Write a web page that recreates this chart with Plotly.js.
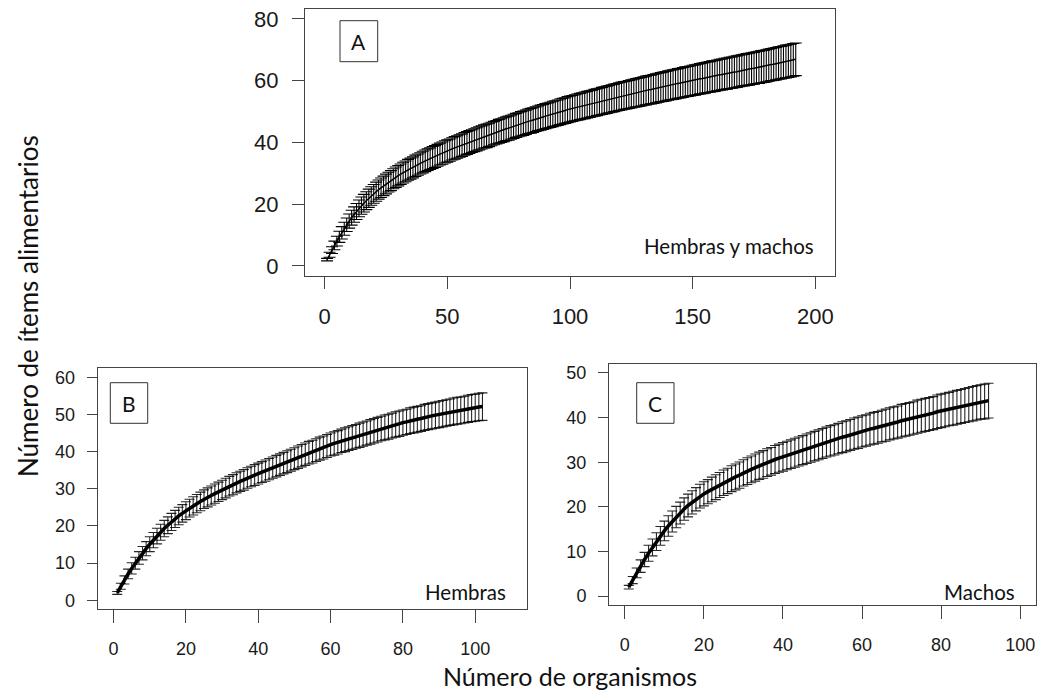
<!DOCTYPE html>
<html><head><meta charset="utf-8">
<script src="https://cdn.plot.ly/plotly-3.0.1.min.js"></script>
<style>html,body{margin:0;padding:0;background:#fff}#chart{width:1037px;height:693px}</style>
</head><body><div id="chart"></div>
<script>
// Panel A: Hembras y machos (mean number of food items vs number of organisms, 1..192)
const meanA = [
2.0,3.6,5.1,6.6,8.0,9.4,10.7,12.0,13.3,14.5,
15.6,16.6,17.6,18.6,19.5,20.3,21.1,21.9,22.6,23.3,
24.0,24.7,25.3,25.9,26.5,27.1,27.6,28.2,28.7,29.2,
29.7,30.2,30.6,31.1,31.5,31.9,32.4,32.8,33.2,33.6,
34.0,34.4,34.7,35.1,35.4,35.8,36.2,36.5,36.9,37.2,
37.5,37.9,38.2,38.5,38.8,39.1,39.5,39.8,40.1,40.4,
40.7,41.0,41.3,41.6,41.9,42.1,42.4,42.7,43.0,43.3,
43.6,43.8,44.1,44.4,44.6,44.9,45.2,45.5,45.7,46.0,
46.2,46.5,46.8,47.0,47.2,47.5,47.8,48.0,48.2,48.5,
48.7,48.9,49.2,49.4,49.6,49.9,50.1,50.3,50.6,50.8,
51.0,51.2,51.4,51.6,51.8,52.0,52.2,52.4,52.6,52.8,
53.0,53.2,53.4,53.6,53.8,54.0,54.2,54.4,54.6,54.8,
55.0,55.2,55.3,55.5,55.7,55.9,56.1,56.2,56.4,56.6,
56.8,57.0,57.1,57.3,57.5,57.7,57.9,58.0,58.2,58.4,
58.6,58.7,58.9,59.1,59.2,59.4,59.6,59.7,59.9,60.1,
60.2,60.4,60.6,60.7,60.9,61.1,61.2,61.4,61.5,61.7,
61.9,62.0,62.2,62.3,62.5,62.6,62.8,62.9,63.1,63.3,
63.4,63.6,63.7,63.9,64.0,64.2,64.3,64.5,64.6,64.8,
65.0,65.2,65.3,65.5,65.7,65.8,66.0,66.2,66.3,66.5,66.7,66.9
];
const errA = [
0.4,0.8,1.1,1.4,1.6,1.8,2.0,2.1,2.2,2.3,
2.4,2.5,2.6,2.7,2.8,2.85,2.9,2.95,3.0,3.05,
3.1,3.1,3.15,3.15,3.2,3.2,3.25,3.25,3.3,3.3,
3.3,3.35,3.35,3.4,3.4,3.4,3.45,3.45,3.45,3.5,
3.5,3.5,3.5,3.55,3.55,3.55,3.55,3.6,3.6,3.6,
3.6,3.6,3.65,3.65,3.65,3.65,3.7,3.7,3.7,3.7,
3.7,3.75,3.75,3.75,3.75,3.8,3.8,3.8,3.8,3.8,
3.85,3.85,3.85,3.85,3.9,3.9,3.9,3.9,3.9,3.95,
3.95,3.95,3.95,4.0,4.0,4.0,4.0,4.05,4.05,4.05,
4.05,4.1,4.1,4.1,4.1,4.15,4.15,4.15,4.2,4.2,
4.2,4.2,4.25,4.25,4.25,4.3,4.3,4.3,4.3,4.35,
4.35,4.35,4.4,4.4,4.4,4.4,4.45,4.45,4.45,4.5,
4.5,4.5,4.5,4.55,4.55,4.55,4.6,4.6,4.6,4.6,
4.65,4.65,4.65,4.7,4.7,4.7,4.7,4.75,4.75,4.75,
4.75,4.8,4.8,4.8,4.8,4.85,4.85,4.85,4.85,4.9,
4.9,4.9,4.9,4.95,4.95,4.95,4.95,5.0,5.0,5.0,
5.0,5.0,5.05,5.05,5.05,5.05,5.1,5.1,5.1,5.1,
5.1,5.15,5.15,5.15,5.15,5.15,5.2,5.2,5.2,5.2,
5.2,5.2,5.25,5.25,5.25,5.25,5.25,5.3,5.3,5.3,5.3,5.3
];

// Panel B: Hembras (1..102)
const meanB = [
2.0,3.8,5.5,7.1,8.6,10.0,11.4,12.7,13.9,15.1,
16.2,17.3,18.3,19.3,20.2,21.1,21.9,22.7,23.4,24.1,
24.8,25.4,26.0,26.6,27.2,27.7,28.2,28.7,29.2,29.7,
30.2,30.7,31.1,31.6,32.0,32.4,32.9,33.3,33.7,34.1,
34.5,34.9,35.3,35.7,36.1,36.5,36.9,37.3,37.7,38.1,
38.5,38.9,39.3,39.7,40.0,40.4,40.8,41.1,41.5,41.9,
42.2,42.5,42.9,43.2,43.5,43.8,44.1,44.4,44.7,45.0,
45.3,45.6,45.9,46.2,46.5,46.7,47.0,47.3,47.5,47.8,
48.0,48.3,48.5,48.7,48.9,49.2,49.4,49.6,49.8,50.0,
50.2,50.4,50.6,50.8,51.0,51.1,51.3,51.5,51.7,51.8,52.0,52.1
];
const errB = [
0.4,0.8,1.1,1.3,1.5,1.6,1.7,1.8,1.9,2.0,
2.05,2.1,2.15,2.2,2.25,2.3,2.3,2.35,2.35,2.4,
2.4,2.45,2.45,2.5,2.5,2.55,2.55,2.6,2.6,2.6,
2.65,2.65,2.7,2.7,2.7,2.75,2.75,2.75,2.8,2.8,
2.8,2.85,2.85,2.85,2.9,2.9,2.9,2.95,2.95,2.95,
3.0,3.0,3.0,3.05,3.05,3.05,3.1,3.1,3.1,3.1,
3.15,3.15,3.15,3.2,3.2,3.2,3.2,3.25,3.25,3.25,
3.3,3.3,3.3,3.3,3.35,3.35,3.35,3.4,3.4,3.4,
3.4,3.45,3.45,3.45,3.45,3.5,3.5,3.5,3.5,3.55,
3.55,3.55,3.55,3.6,3.6,3.6,3.6,3.65,3.65,3.65,3.7,3.7
];

// Panel C: Machos (1..92)
const meanC = [
2.0,3.6,5.2,6.7,8.2,9.6,10.9,12.2,13.5,14.6,
15.7,16.7,17.7,18.6,19.5,20.3,21.0,21.7,22.4,22.9,
23.4,23.9,24.4,24.9,25.4,25.8,26.3,26.7,27.1,27.6,
28.0,28.4,28.8,29.2,29.5,29.9,30.2,30.6,30.9,31.2,
31.5,31.8,32.1,32.4,32.7,33.0,33.3,33.6,33.9,34.2,
34.5,34.8,35.0,35.3,35.6,35.8,36.1,36.4,36.6,36.9,
37.1,37.4,37.6,37.8,38.1,38.3,38.6,38.8,39.0,39.3,
39.5,39.7,39.9,40.2,40.4,40.6,40.8,41.0,41.3,41.5,
41.7,41.9,42.1,42.3,42.5,42.7,42.9,43.1,43.3,43.5,43.6,43.8
];
const errC = [
0.4,0.8,1.1,1.4,1.6,1.8,1.9,2.0,2.1,2.2,
2.3,2.35,2.4,2.45,2.5,2.55,2.6,2.6,2.65,2.7,
2.7,2.75,2.8,2.8,2.85,2.85,2.9,2.9,2.95,2.95,
3.0,3.0,3.05,3.05,3.1,3.1,3.1,3.15,3.15,3.2,
3.2,3.2,3.25,3.25,3.25,3.3,3.3,3.3,3.35,3.35,
3.35,3.4,3.4,3.4,3.45,3.45,3.45,3.5,3.5,3.5,
3.5,3.55,3.55,3.55,3.55,3.6,3.6,3.6,3.6,3.65,
3.65,3.65,3.65,3.7,3.7,3.7,3.7,3.7,3.75,3.75,
3.75,3.75,3.8,3.8,3.8,3.8,3.85,3.85,3.85,3.85,3.9,3.9
];

const ticksAx = [0, 50, 100, 150, 200];
const ticksAy = [0, 20, 40, 60, 80];
const ticksBx = [0, 20, 40, 60, 80, 100];
const ticksBy = [0, 10, 20, 30, 40, 50, 60];
const ticksCx = [0, 20, 40, 60, 80, 100];
const ticksCy = [0, 10, 20, 30, 40, 50];

const panelLetters = ['A', 'B', 'C'];
const panelNames = ['Hembras y machos', 'Hembras', 'Machos'];
const titleY = 'Número de ítems alimentarios';
const titleX = 'Número de organismos';

// ---- layout helpers (pixel -> paper) ----
const W = 1037, H = 693;
const PX = v => v / W;
const PY = v => 1 - v / H;
const tickFamily = 'Arial';
const textFamily = 'Lato';

function curve(vals, errs, xa, ya, lw, ecol, cap) {
  return {
    x: vals.map((_, i) => i + 1), y: vals, xaxis: xa, yaxis: ya,
    type: 'scatter', mode: 'lines', line: {color: '#000', width: lw},
    error_y: {type: 'data', array: errs, visible: true, color: ecol, thickness: 1.1, width: cap},
    hoverinfo: 'skip'
  };
}

function axis(domain, range, tickvals, fsize, tlen, standoff, anchor) {
  return {
    domain: domain, range: range, tickvals: tickvals, ticktext: tickvals.map(String),
    ticks: 'outside', ticklen: tlen, tickwidth: 1, tickcolor: '#444',
    showline: true, linecolor: '#444', linewidth: 1, mirror: true,
    showgrid: false, zeroline: false, anchor: anchor, fixedrange: true,
    tickfont: {family: tickFamily, size: fsize, color: '#1a1a1a'},
    ticklabelstandoff: standoff
  };
}

const data = [
  curve(meanA, errA, 'x', 'y', 1.5, '#000', 6),
  curve(meanB, errB, 'x2', 'y2', 3.5, 'rgba(0,0,0,0.85)', 5),
  curve(meanC, errC, 'x3', 'y3', 3.5, 'rgba(0,0,0,0.85)', 5)
];

const boxes = [
  [340, 20.7, 377.7, 61.7],
  [110.3, 382.7, 147.7, 423.3],
  [636.7, 382.7, 674, 423.3]
];

const shapes = boxes.map(b => ({
  type: 'rect', xref: 'paper', yref: 'paper',
  x0: PX(b[0]), x1: PX(b[2]), y0: PY(b[3]), y1: PY(b[1]),
  line: {color: '#333', width: 1}, fillcolor: 'rgba(0,0,0,0)'
}));

const annotations = [];
boxes.forEach((b, i) => {
  annotations.push({
    xref: 'paper', yref: 'paper', x: PX((b[0] + b[2]) / 2), y: PY((b[1] + b[3]) / 2),
    xanchor: 'center', yanchor: 'middle', showarrow: false, text: panelLetters[i],
    font: {family: textFamily, size: 21, color: '#111'}
  });
});
const namePos = [[816, 246.5], [507.7, 591.5], [1017, 591.5]];
namePos.forEach((p, i) => {
  annotations.push({
    xref: 'paper', yref: 'paper', x: PX(p[0]), y: PY(p[1]),
    xanchor: 'right', yanchor: 'middle', showarrow: false, text: panelNames[i],
    font: {family: textFamily, size: 20.5, color: '#111'}
  });
});
annotations.push({
  xref: 'paper', yref: 'paper', x: PX(28), y: PY(306), xanchor: 'center', yanchor: 'middle',
  showarrow: false, textangle: -90, text: titleY, font: {family: textFamily, size: 26, color: '#111'}
});
annotations.push({
  xref: 'paper', yref: 'paper', x: PX(570), y: PY(676), xanchor: 'center', yanchor: 'middle',
  showarrow: false, text: titleX, font: {family: textFamily, size: 25, color: '#111'}
});

const layout = {
  width: W, height: H, margin: {l: 0, r: 0, t: 0, b: 0},
  paper_bgcolor: '#fff', plot_bgcolor: '#fff', showlegend: false,
  xaxis: axis([PX(305), PX(835)], [-8, 208], ticksAx, 22, 12, 9, 'y'),
  yaxis: axis([PY(275.7), PY(9)], [-3.2, 83.2], ticksAy, 22, 12, 9, 'x'),
  xaxis2: axis([PX(97.7), PX(527.3)], [-4.4, 114.4], ticksBx, 18, 13, 10, 'y2'),
  yaxis2: axis([PY(609.3), PY(368.3)], [-2.4, 62.4], ticksBy, 18, 10, 8, 'x2'),
  xaxis3: axis([PX(609), PX(1036)], [-4, 104], ticksCx, 18, 13, 10, 'y3'),
  yaxis3: axis([PY(605), PY(364)], [-2, 52], ticksCy, 18, 10, 8, 'x3'),
  shapes: shapes, annotations: annotations
};

Plotly.newPlot('chart', data, layout, {staticPlot: true, displayModeBar: false});
</script>
</body></html>
